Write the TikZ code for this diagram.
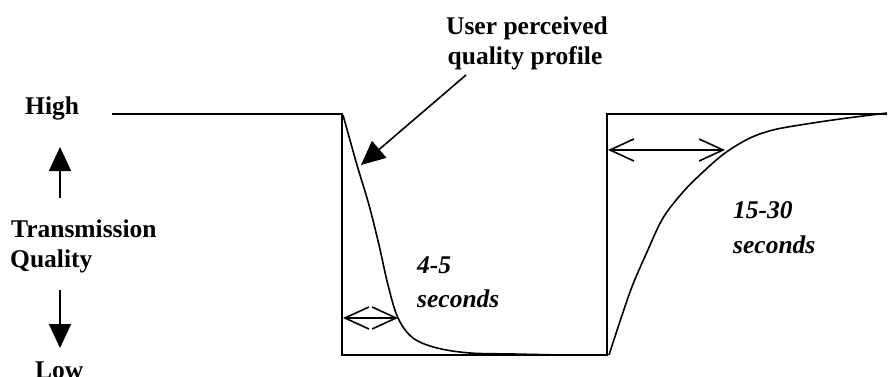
\documentclass[tikz,border=0pt]{standalone}
\usepackage{fontspec}
\setmainfont{Liberation Serif}
\usetikzlibrary{arrows.meta}
\tikzset{
  lbl/.style={inner sep=0pt, anchor=base west, font=\fontsize{25.5}{30}\selectfont\bfseries},
  lblc/.style={lbl, anchor=base},
  ital/.style={lbl, font=\fontsize{25.5}{30}\selectfont\bfseries\itshape},
  ln/.style={line width=1.6pt, line join=miter},
  curve/.style={line width=1.6pt},
  dbl/.style={line width=1.6pt, {Straight Barb[length=24pt,width=22pt,line width=1.6pt]}-{Straight Barb[length=24pt,width=22pt,line width=1.6pt]}},
  solidarrow/.style={line width=1.6pt, -{Triangle[length=24pt,width=22pt]}}
}
\begin{document}
\begin{tikzpicture}[x=1pt,y=-1pt]
\useasboundingbox (0,0) rectangle (888,377);
% labels
\node[lbl] (high) at (25,114) {High};
\node[lbl] (trans) at (11,237) {Transmission};
\node[lbl] (qual) at (10,267) {Quality};
\node[lbl] (low) at (35,378) {Low};
\node[lblc] (user) at (527,35) {User perceived};
\node[lblc] (prof) at (525,65) {quality profile};
\node[ital] (t45) at (417,273) {4-5};
\node[ital] (s45) at (417,307) {seconds};
\node[ital] (t1530) at (733,218) {15-30};
\node[ital] (s1530) at (733,253) {seconds};
% axis arrows
\coordinate (upbase) at (60,198);
\coordinate (uptip) at (60,147);
\coordinate (dnbase) at (60,290);
\coordinate (dntip) at (60,348);
\draw[solidarrow] (upbase) -- (uptip);
\draw[solidarrow] (dnbase) -- (dntip);
% step profile
\coordinate (a) at (112,114);
\coordinate (b) at (342,114);
\coordinate (c) at (342,355);
\coordinate (d) at (607,355);
\coordinate (e) at (607,114);
\coordinate (f) at (887,114);
\draw[ln] (a) -- (b) -- (c) -- (d) -- (e) -- (f);
% perceived decay curve
\draw[curve] plot[smooth, tension=0.55] coordinates {(343,115) (357,165) (369,205) (379,245) (388,285) (398,318) (413,338) (437,348) (470,353) (513,354) (560,355)};
% perceived recovery curve
\draw[curve] plot[smooth, tension=0.55] coordinates {(609,355) (630,292) (647,252) (663,218) (683,192) (703,172) (725,153) (750,138) (773,130) (800,125) (840,119) (887,113)};
% arrow to the curve
\coordinate (ustart) at (466,75);
\coordinate (curvept) at (361,165);
\draw[solidarrow] (ustart) -- (curvept);
% duration arrows
\coordinate (d1a) at (343,318);
\coordinate (d1b) at (398,318);
\draw[dbl] (d1a) -- (d1b);
\coordinate (d2a) at (608,150);
\coordinate (d2b) at (725,150);
\draw[dbl] (d2a) -- (d2b);
\end{tikzpicture}
\end{document}
